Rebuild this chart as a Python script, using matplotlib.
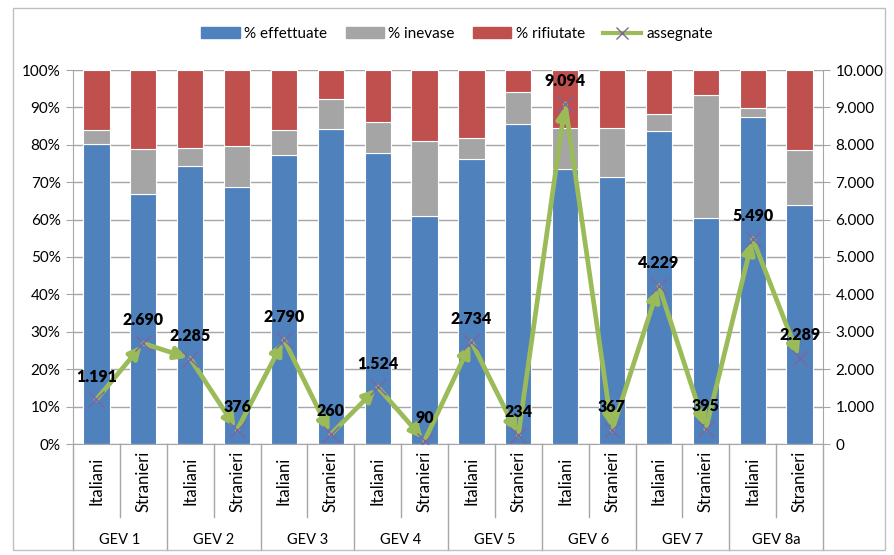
import matplotlib.pyplot as plt
import matplotlib.transforms as mtransforms
from matplotlib.lines import Line2D
from matplotlib.patches import Patch, Rectangle
from matplotlib.ticker import FuncFormatter, MultipleLocator
import numpy as np

plt.rcParams['font.family'] = ['Lato', 'DejaVu Sans']

BLUE = '#4F81BD'
GRAY = '#A5A5A5'
RED = '#C0504D'
GREEN = '#9BBB59'
PURPLE = '#8064A2'
GRID_RGB = '#A6A6A6'

groups = ['GEV 1', 'GEV 2', 'GEV 3', 'GEV 4', 'GEV 5', 'GEV 6', 'GEV 7', 'GEV 8a']
subgroups = ['Italiani', 'Stranieri']

effettuate = [80.1, 66.9, 74.4, 68.7, 77.4, 84.2, 77.9, 60.9,
              76.3, 85.5, 73.5, 71.3, 83.6, 60.4, 87.5, 63.9]
inevase = [3.8, 12.0, 4.7, 11.0, 6.5, 8.1, 8.1, 20.1,
           5.5, 8.5, 10.9, 13.2, 4.6, 33.0, 2.4, 14.7]
rifiutate = [100 - e - i for e, i in zip(effettuate, inevase)]
assegnate = [1191, 2690, 2285, 376, 2790, 260, 1524, 90,
             2734, 234, 9094, 367, 4229, 395, 5490, 2289]


def thousands(v, pos):
    return f"{int(v):,}".replace(',', '.')


figure = plt.figure(figsize=(8.94, 5.55), dpi=100)
figure.patches.append(Rectangle((13 / 894, 5 / 555), 872 / 894, 542 / 555,
                                transform=figure.transFigure, fill=False,
                                edgecolor='#BFBFBF', linewidth=1))
axes = figure.add_axes([73 / 894, 1 - 444 / 555, 750 / 894, 374 / 555])

x = np.arange(len(effettuate))
width = 0.56
bottom2 = np.array(effettuate)
bottom3 = bottom2 + np.array(inevase)
axes.bar(x, effettuate, width, color=BLUE, edgecolor='white', linewidth=0.8, zorder=2)
axes.bar(x, inevase, width, bottom=bottom2, color=GRAY, edgecolor='white', linewidth=0.8, zorder=2)
axes.bar(x, rifiutate, width, bottom=bottom3, color=RED, edgecolor='white', linewidth=0.8, zorder=2)

axes.set_xlim(-0.5, len(x) - 0.5)
axes.set_ylim(0, 100)
axes.yaxis.set_major_locator(MultipleLocator(10))
axes.yaxis.set_major_formatter(FuncFormatter(lambda v, p: f"{int(v)}%"))
axes.grid(axis='y', color=GRID_RGB, linewidth=1, zorder=0)
axes.set_axisbelow(True)
axes.set_xticks([])
axes.tick_params(axis='y', labelsize=11, length=5, color=GRID_RGB, pad=4)
for side in ['top', 'right']:
    axes.spines[side].set_visible(False)
axes.spines['left'].set_color(GRID_RGB)
axes.spines['bottom'].set_color(GRID_RGB)

# second axis with assegnate
axes2 = axes.twinx()
axes2.set_ylim(0, 10000)
axes2.yaxis.set_major_locator(MultipleLocator(1000))
axes2.yaxis.set_major_formatter(FuncFormatter(thousands))
axes2.tick_params(axis='y', labelsize=11, length=5, color=GRID_RGB, pad=4)
for side in ['top', 'left', 'bottom']:
    axes2.spines[side].set_visible(False)
axes2.spines['right'].set_color(GRID_RGB)

for i in range(len(x) - 1):
    axes2.annotate('', xy=(x[i + 1], assegnate[i + 1]), xytext=(x[i], assegnate[i]),
                   arrowprops=dict(arrowstyle='-|>', color=GREEN, lw=3.4,
                                   mutation_scale=18, shrinkA=0, shrinkB=2),
                   zorder=3)
axes2.plot(x, assegnate, linestyle='', marker='x', color=PURPLE, markersize=12,
           markeredgewidth=1, zorder=4)
for xi, v in zip(x, assegnate):
    axes2.annotate(thousands(v, None), (xi, v), xytext=(0, 16.5), textcoords='offset points',
                   ha='center', va='center', fontsize=11.5, fontweight='heavy', zorder=5)

# multi-level category axis
trans = mtransforms.blended_transform_factory(axes.transData, axes.transAxes)
px = 1 / 374
for i in range(len(x) + 1):
    depth = 106 if i % 2 == 0 else 73
    axes.add_line(Line2D([i - 0.5, i - 0.5], [0, -depth * px], transform=trans,
                         color=GRID_RGB, linewidth=1, clip_on=False))
for i in range(len(x)):
    axes.text(x[i], -37 * px, subgroups[i % 2], transform=trans, rotation=90,
              ha='center', va='center', fontsize=12)
for g, name in enumerate(groups):
    axes.text(2 * g + 0.5, -96 * px, name, transform=trans,
              ha='center', va='center', fontsize=10.5)

handles = [Patch(color=BLUE), Patch(color=GRAY), Patch(color=RED),
           Line2D([], [], color=GREEN, lw=3, marker='x', markeredgecolor=PURPLE,
                  markersize=8)]
figure.legend(handles, ['% effettuate', '% inevase', '% rifiutate', 'assegnate'],
              loc='center', bbox_to_anchor=(457 / 894, 1 - 34 / 555), ncol=4,
              frameon=False, fontsize=11, handlelength=2.5, handleheight=0.7,
              columnspacing=1.2, handletextpad=0.3)

figure.savefig('out.png', dpi=100)
